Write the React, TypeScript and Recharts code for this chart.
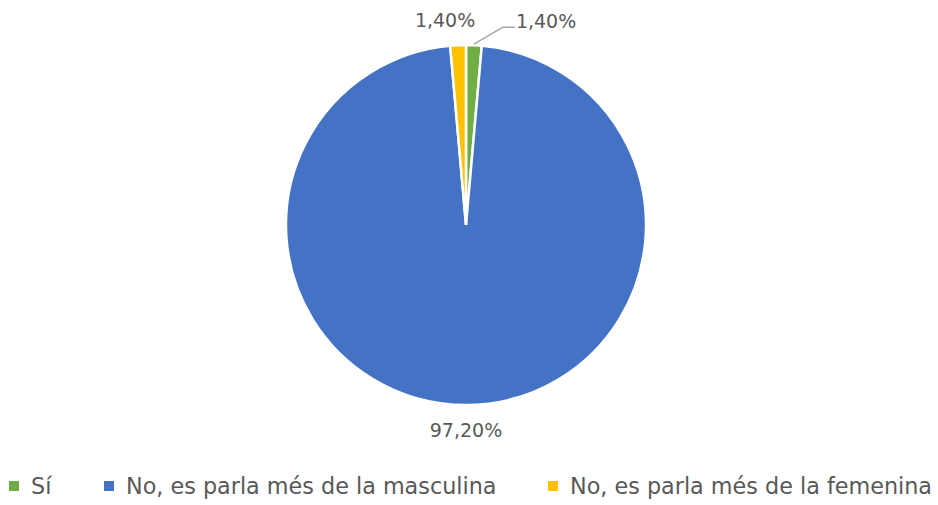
import { PieChart, Pie, Cell, Legend } from "recharts";

const categories = ["Sí", "No, es parla més de la masculina", "No, es parla més de la femenina"];
const values = [1.4, 97.2, 1.4];
const valueLabels = ["1,40%", "97,20%", "1,40%"];
const colors = ["#70AD47", "#4472C4", "#FFC000"];

const data = categories.map((name, i) => ({ name, value: values[i] }));

const RAD = Math.PI / 180;
const FONT = "'DejaVu Sans', sans-serif";

// places the percentage labels roughly where Excel put them
const renderLabel = (props: any) => {
  const { cx, cy, midAngle, outerRadius, index } = props;
  const px = cx + outerRadius * Math.cos(-midAngle * RAD);
  const py = cy + outerRadius * Math.sin(-midAngle * RAD);
  const txt = { fill: "#595959", fontSize: 19, fontFamily: FONT };

  if (index === 0) {
    const ex = px + 29;
    const ey = py - 18;
    return (
      <g>
        <polyline
          points={`${px},${py - 1} ${ex},${ey} ${ex + 12},${ey}`}
          fill="none"
          stroke="#A6A6A6"
          strokeWidth={1.5}
        />
        <text x={ex + 13} y={ey - 5} {...txt} textAnchor="start" dominantBaseline="middle">
          {valueLabels[index]}
        </text>
      </g>
    );
  }
  if (index === 2) {
    return (
      <text x={px - 13} y={py - 24} {...txt} textAnchor="middle" dominantBaseline="middle">
        {valueLabels[index]}
      </text>
    );
  }
  return (
    <text x={px} y={py + 26} {...txt} textAnchor="middle" dominantBaseline="middle">
      {valueLabels[index]}
    </text>
  );
};

const legendLefts = [9, 104, 548];

const renderLegend = () => (
  <div style={{ position: "relative", height: 30, fontFamily: FONT, fontSize: 22.3, color: "#595959" }}>
    {categories.map((c, i) => (
      <div
        key={c}
        style={{ position: "absolute", left: legendLefts[i], top: 0, display: "flex", alignItems: "center", whiteSpace: "nowrap" }}
      >
        <span style={{ width: 10, height: 10, background: colors[i], display: "inline-block", marginRight: 12 }} />
        <span>{c}</span>
      </div>
    ))}
  </div>
);

export default function App() {
  return (
    <div style={{ position: "absolute", left: 0, top: 0, background: "#fff" }}>
      <PieChart width={938} height={505} margin={{ top: 0, right: 0, bottom: 0, left: 0 }}>
        <Pie
          data={data}
          dataKey="value"
          nameKey="name"
          cx={466}
          cy={225}
          outerRadius={180}
          startAngle={90}
          endAngle={-270}
          stroke="#fff"
          strokeWidth={2.5}
          label={renderLabel}
          labelLine={false}
          isAnimationActive={false}
        >
          {data.map((d, i) => (
            <Cell key={d.name} fill={colors[i]} />
          ))}
        </Pie>
        <Legend
          content={renderLegend}
          wrapperStyle={{ left: 0, top: 473, width: 938 }}
        />
      </PieChart>
    </div>
  );
}
